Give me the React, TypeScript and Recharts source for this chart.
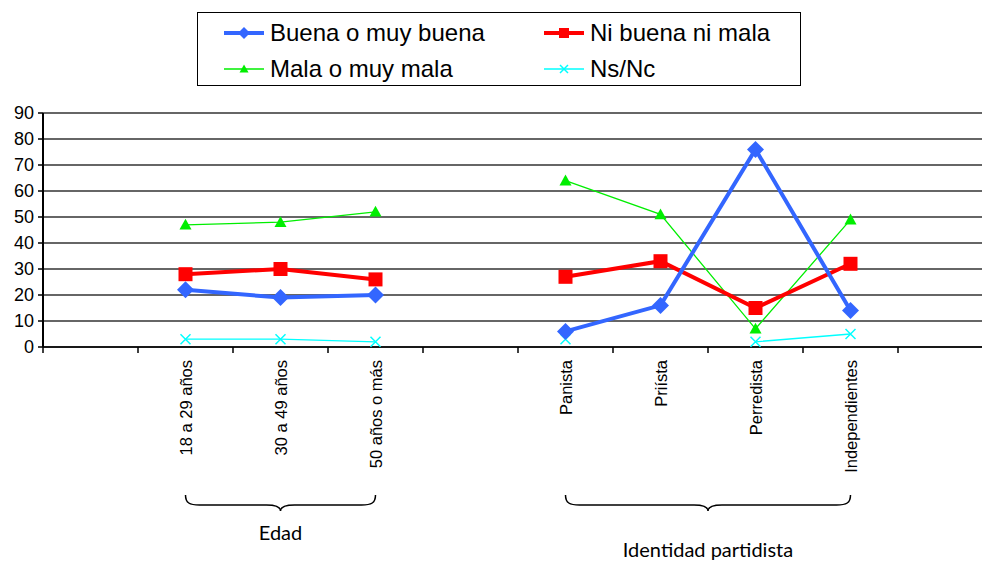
import React from 'react';
import { LineChart, Line, XAxis, YAxis, CartesianGrid, Legend } from 'recharts';

const categories = ['', '18 a 29 años', '30 a 49 años', '50 años o más', '', 'Panista', 'Priísta', 'Perredista', 'Independientes', ''];
const buena = [null, 22, 19, 20, null, 6, 16, 76, 14, null];
const niBuenaNiMala = [null, 28, 30, 26, null, 27, 33, 15, 32, null];
const mala = [null, 47, 48, 52, null, 64, 51, 7, 49, null];
const nsnc = [null, 3, 3, 2, null, 3, null, 2, 5, null];
const yTicks = [0, 10, 20, 30, 40, 50, 60, 70, 80, 90];
const groups = [
  { label: 'Edad', from: 1, to: 3 },
  { label: 'Identidad partidista', from: 5, to: 8 },
];

const data = categories.map((c, i) => ({
  buena: buena[i],
  ni: niBuenaNiMala[i],
  mala: mala[i],
  ns: nsnc[i],
}));

const CHART_W = 1000;
const PLOT_LEFT = 43;
const PLOT_RIGHT = 7;
const band = (CHART_W - PLOT_LEFT - PLOT_RIGHT) / categories.length;
const FONT = '"Liberation Sans", Arial, sans-serif';

const BLUE = '#3366FF';
const RED = '#FF0000';
const GREEN = '#00EE00';
const CYAN = '#00FFFF';

const Diamond = ({ cx, cy, size }: any) => {
  if (cx == null || cy == null) return null;
  const r = size;
  return <path d={`M${cx},${cy - r}L${cx + r},${cy}L${cx},${cy + r}L${cx - r},${cy}Z`} fill={BLUE} />;
};
const Square = ({ cx, cy, size }: any) =>
  cx == null || cy == null ? null : <rect x={cx - size} y={cy - size} width={size * 2} height={size * 2} fill={RED} />;
const Triangle = ({ cx, cy, size }: any) =>
  cx == null || cy == null ? null : (
    <path d={`M${cx},${cy - size}L${cx + size},${cy + size * 0.8}L${cx - size},${cy + size * 0.8}Z`} fill={GREEN} />
  );
const Cross = ({ cx, cy, size }: any) =>
  cx == null || cy == null ? null : (
    <path
      d={`M${cx - size},${cy - size}L${cx + size},${cy + size}M${cx + size},${cy - size}L${cx - size},${cy + size}`}
      stroke={CYAN}
      strokeWidth={1.5}
      fill="none"
    />
  );

const dotOf = (Mark: any, size: number) => (p: any) => <Mark key={p.index} cx={p.cx} cy={p.cy} size={size} />;

const brace = (x1: number, x2: number, y0: number) => {
  const mid = (x1 + x2) / 2;
  const yc = y0 + 10;
  const yb = y0 + 16;
  const r = 14;
  return `M${x1},${y0} C${x1},${yc - 2} ${x1 + 4},${yc} ${x1 + r},${yc} L${mid - r},${yc} C${mid - 4},${yc} ${mid},${yc + 2} ${mid},${yb} C${mid},${yc + 2} ${mid + 4},${yc} ${mid + r},${yc} L${x2 - r},${yc} C${x2 - 4},${yc} ${x2},${yc - 2} ${x2},${y0}`;
};

const CatTick = (props: any) => {
  const { x, y, payload } = props;
  const i = payload.value;
  const label = categories[i] || '';
  const g = groups.findIndex((gr) => gr.from === i);
  return (
    <g>
      <line x1={x - band / 2} x2={x - band / 2} y1={y} y2={y + 6} stroke="#000" strokeWidth={1.5} />
      {label && (
        <text
          transform={`translate(${x},${y + 13}) rotate(-90)`}
          textAnchor="end"
          dominantBaseline="central"
          fontSize={16.5}
          fontFamily={FONT}
          fill="#000"
        >
          {label}
        </text>
      )}
      {g >= 0 && (
        <g>
          <path d={brace(x, x + (groups[g].to - groups[g].from) * band, y + 148)} stroke="#000" strokeWidth={1.5} fill="none" />
          <text
            x={x + ((groups[g].to - groups[g].from) * band) / 2}
            y={y + 193 + g * 17}
            textAnchor="middle"
            fontSize={20}
            fontFamily="Lato, sans-serif"
            fill="#000"
          >
            {groups[g].label}
          </text>
        </g>
      )}
    </g>
  );
};

const legendItems = [
  { name: 'Buena o muy buena', color: BLUE, width: 4, Mark: Diamond, size: 6 },
  { name: 'Ni buena ni mala', color: RED, width: 4, Mark: Square, size: 5 },
  { name: 'Mala o muy mala', color: GREEN, width: 1.3, Mark: Triangle, size: 4.5 },
  { name: 'Ns/Nc', color: CYAN, width: 1.3, Mark: Cross, size: 4 },
];

const renderLegend = () => (
  <div style={{ position: 'relative', width: 604, height: 74, border: '1.5px solid #000', boxSizing: 'border-box', background: '#fff' }}>
    {legendItems.map((it, i) => {
      const left = i % 2 === 0 ? 25 : 345;
      const top = i < 2 ? 7 : 43;
      const { Mark } = it;
      return (
        <div key={it.name} style={{ position: 'absolute', left, top, height: 26, display: 'flex', alignItems: 'center' }}>
          <svg width={42} height={20}>
            <line x1={1} x2={41} y1={10} y2={10} stroke={it.color} strokeWidth={it.width} />
            <Mark cx={21} cy={10} size={it.size} />
          </svg>
          <span style={{ marginLeft: 5, fontFamily: FONT, fontSize: 24, color: '#000', whiteSpace: 'nowrap' }}>{it.name}</span>
        </div>
      );
    })}
  </div>
);

export default function App() {
  return (
    <div style={{ position: 'absolute', left: 0, top: 0, width: 982, height: 561, overflow: 'hidden', background: '#fff' }}>
      <LineChart width={CHART_W} height={561} data={data} margin={{ top: 113, right: PLOT_RIGHT, bottom: 0, left: 0 }}>
        <CartesianGrid vertical={false} stroke="#333" strokeWidth={1.5} />
        <XAxis
          height={214}
          scale="band"
          interval={0}
          tick={<CatTick />}
          tickLine={false}
          tickSize={0}
          tickMargin={0}
          axisLine={{ stroke: '#000', strokeWidth: 1.5 }}
        />
        <YAxis
          width={PLOT_LEFT}
          domain={[0, 90]}
          ticks={yTicks}
          interval={0}
          tick={{ fill: '#000', fontSize: 18, fontFamily: FONT }}
          tickSize={5}
          tickMargin={4}
          tickLine={{ stroke: '#000', strokeWidth: 1.5 }}
          axisLine={{ stroke: '#000', strokeWidth: 2 }}
        />
        <Legend
          layout="horizontal"
          verticalAlign="middle"
          align="center"
          content={renderLegend}
          wrapperStyle={{ left: 197, top: 12, width: 604, height: 74 }}
        />
        <Line dataKey="mala" stroke={GREEN} strokeWidth={1.3} dot={dotOf(Triangle, 6)} isAnimationActive={false} />
        <Line dataKey="ns" stroke={CYAN} strokeWidth={1.3} dot={dotOf(Cross, 5)} isAnimationActive={false} />
        <Line dataKey="ni" stroke={RED} strokeWidth={4} dot={dotOf(Square, 7)} isAnimationActive={false} />
        <Line dataKey="buena" stroke={BLUE} strokeWidth={4} dot={dotOf(Diamond, 8.5)} isAnimationActive={false} />
      </LineChart>
    </div>
  );
}
